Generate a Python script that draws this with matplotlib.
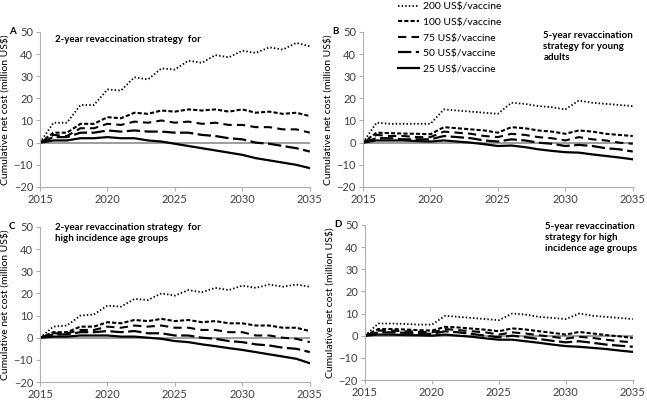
import numpy as np
import matplotlib.pyplot as plt

plt.rcParams['font.family'] = ['Lato', 'DejaVu Sans']

years = np.arange(2015, 2036)
prices = ['200 US$/vaccine', '100 US$/vaccine', '75 US$/vaccine', '50 US$/vaccine', '25 US$/vaccine']

# panel A: 2-year revaccination strategy
a_200 = [0, 9, 9, 17, 17, 24, 23.5, 29.5, 28.5, 33.5, 33, 37, 36, 39.5, 38.5, 41.5, 40.5, 43, 42, 45, 43.5]
a_100 = [0, 4.5, 4.5, 8.5, 8.5, 11.5, 11, 13.5, 13, 14.5, 14, 15, 14.5, 15, 14, 15, 13.5, 14, 13, 13.5, 12]
a_75 = [0, 3.5, 3, 6.5, 6.5, 8.5, 8, 9.5, 9, 10, 9, 9.5, 8.5, 9, 8, 8, 7, 7, 6, 6, 4.5]
a_50 = [0, 2.5, 2.5, 4.5, 4.5, 5.5, 5, 5.5, 5, 5, 4.5, 4.5, 3.5, 3, 2, 1.5, 0, -0.5, -1.5, -2.5, -4]
a_25 = [0, 1, 1, 2, 2, 2.5, 2, 2, 1, 0.5, -0.5, -1.5, -2.5, -3.5, -4.5, -5.5, -7, -8, -9, -10, -11.5]

# panel B: 5-year revaccination strategy for young adults
b_200 = [0, 9, 8.5, 8.5, 8.5, 8.5, 15, 14.5, 14, 13.5, 13, 18, 17.5, 16.5, 16, 15, 19, 18, 17.5, 17, 16.5]
b_100 = [0, 4.5, 4.3, 4.1, 4, 3.8, 7, 6.5, 6, 5.5, 4.5, 7, 6.5, 5.5, 5, 4, 5.5, 5, 4, 3.5, 3]
b_75 = [0, 3.5, 3, 3, 2.5, 2.5, 5, 4.5, 4, 3, 2.5, 4, 3.5, 2.5, 2, 1, 2.5, 1.5, 1, 0, -0.5]
b_50 = [0, 2, 2, 1.5, 1.5, 1.5, 3, 2.5, 2, 1, 0.5, 1.5, 1, 0, -0.5, -1.5, -1, -1.5, -2.5, -3, -4]
b_25 = [0, 1, 1, 1, 0.7, 0.5, 1, 0.5, 0, -0.7, -1.5, -1.3, -2, -3, -3.7, -4.3, -4.5, -5.3, -6, -6.7, -7.5]

# panel C: 2-year revaccination strategy for high incidence age groups
c_200 = [0, 5, 5.5, 10, 10.5, 14.5, 14, 17.5, 17, 20, 19, 21.5, 20.5, 22.5, 21.5, 23.5, 22.5, 24, 23, 24, 23]
c_100 = [0, 2.5, 2.5, 5, 5, 7, 6.5, 8, 7.5, 8.5, 7.5, 8, 7, 7.5, 6.5, 6.5, 5.5, 5.5, 4.5, 4.5, 3]
c_75 = [0, 2, 2, 3.5, 3.5, 5, 4.5, 5.5, 5, 5.5, 4.5, 4.5, 3.5, 3.5, 2.5, 2.5, 1, 1, 0, -0.5, -2]
c_50 = [0, 1.5, 1.5, 2.5, 2.5, 3, 2.5, 3, 2, 2, 1, 1, 0, -0.5, -1.5, -2, -3, -3.5, -4.5, -5, -6.5]
c_25 = [0, 0.5, 0.5, 1, 1, 1, 0.5, 0.5, 0, -0.5, -1.5, -2, -3, -3.8, -4.7, -5.5, -6.5, -7.5, -8.5, -9.5, -11.5]

# panel D: 5-year revaccination strategy for high incidence age groups
d_200 = [0, 5.5, 5.5, 5.3, 5, 5, 9, 8.5, 8, 7.5, 7, 10, 9.5, 8.5, 8, 7.5, 10, 9, 8.5, 8, 7.5]
d_100 = [0, 3, 3, 2.8, 2.5, 2.3, 4, 3.7, 3.2, 2.7, 2, 3.3, 2.8, 2, 1.3, 0.5, 1.7, 1, 0.3, -0.3, -1]
d_75 = [0, 2.3, 2.3, 2, 1.8, 1.5, 3, 2.5, 2, 1.5, 0.5, 1.5, 1, 0.2, -0.5, -1.3, -0.5, -1, -1.8, -2.5, -3]
d_50 = [0, 1.5, 1.5, 1.3, 1, 0.8, 2, 1.5, 0.8, 0, -0.7, 0, -0.7, -1.5, -2.3, -3, -2.5, -3.2, -4, -4.5, -5]
d_25 = [0, 0.5, 0.5, 0.3, 0.2, 0, 0.5, 0, -0.5, -1.2, -1.8, -1.8, -2.5, -3.2, -4, -4.7, -5, -5.5, -6, -6.7, -7.3]

styles = [dict(ls=(0, (0.8, 1.2)), lw=1.3),
          dict(ls=(0, (2, 1)), lw=1.5),
          dict(ls=(0, (4, 2.5)), lw=1.5),
          dict(ls=(0, (6, 2)), lw=1.6),
          dict(ls='-', lw=1.6)]

panels = [
    ('A', [a_200, a_100, a_75, a_50, a_25], '2-year revaccination strategy  for', [0.0618, 0.536, 0.417, 0.385], (0.085, 0.914)),
    ('B', [b_200, b_100, b_75, b_50, b_25], '5-year revaccination\nstrategy for young\nadults', [0.561, 0.536, 0.417, 0.385], (0.840, 0.924)),
    ('C', [c_200, c_100, c_75, c_50, c_25], '2-year revaccination strategy  for\nhigh incidence age groups', [0.0618, 0.052, 0.417, 0.385], (0.085, 0.446)),
    ('D', [d_200, d_100, d_75, d_50, d_25], '5-year revaccination\nstrategy for high\nincidence age groups', [0.564, 0.057, 0.414, 0.385], (0.843, 0.449)),
]

fig = plt.figure(figsize=(6.47, 4.03), dpi=100)
for letter, series, title, rect, tpos in panels:
    ax = fig.add_axes(rect)
    ax.axhline(0, color='#8c8c8c', lw=1.2, zorder=1)
    for s, st, lab in zip(series, styles, prices):
        ax.plot(years, s, color='black', label=lab, zorder=2, **st)
    ax.set_xlim(2015, 2035)
    ax.set_ylim(-20, 50)
    ax.set_xticks([2015, 2020, 2025, 2030, 2035])
    ax.set_yticks(range(-20, 51, 10))
    for sp in ['top', 'right']:
        ax.spines[sp].set_visible(False)
    ax.spines['left'].set_color('#b0b0b0')
    ax.spines['bottom'].set_color('#b0b0b0')
    ax.tick_params(labelsize=8, length=3, color='#b0b0b0', labelcolor='#404040', pad=2)
    ax.set_ylabel('Cumulative net cost (million US$)', fontsize=7.5, labelpad=3)
    fig.text(tpos[0], tpos[1], title, fontsize=7, fontweight='bold', ha='left', va='top', linespacing=1.3)
    p = ax.get_position()
    fig.text(p.x0 - 0.048, p.y1, letter, fontsize=7, fontweight='bold', ha='left', va='center')
    if letter == 'B':
        handles, labels = ax.get_legend_handles_labels()

fig.legend(handles, labels, loc='upper left', bbox_to_anchor=(0.609, 1.005), frameon=False,
           fontsize=7.5, handlelength=2.0, handletextpad=0.4, labelspacing=0.6, borderaxespad=0)

fig.savefig('out.png', dpi=100)
